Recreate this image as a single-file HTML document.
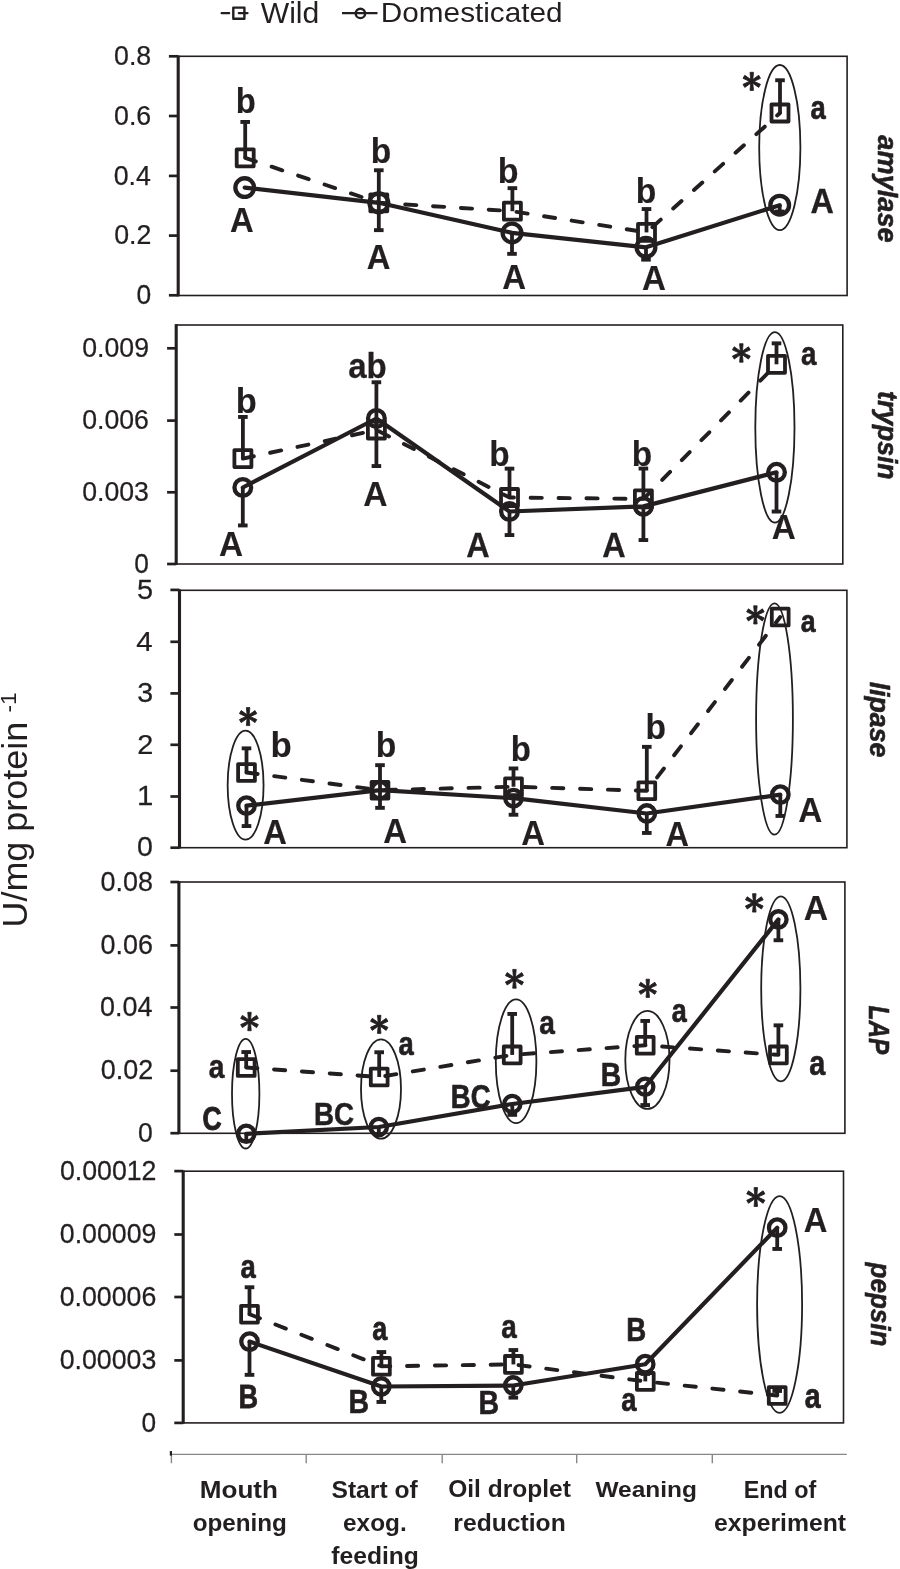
<!DOCTYPE html>
<html><head><meta charset="utf-8"><style>
html,body{margin:0;padding:0;background:#fff;}
svg{display:block;will-change:transform;}
text{font-family:"Liberation Sans",sans-serif;}
</style></head><body>
<svg width="900" height="1569" viewBox="0 0 900 1569">
<rect width="900" height="1569" fill="#fff"/>
<rect x="178.20" y="56.30" width="668.90" height="239.20" fill="none" stroke="#231f20" stroke-width="1.6"/>
<line x1="178.20" y1="55.50" x2="178.20" y2="296.30" stroke="#231f20" stroke-width="3.10" stroke-linecap="butt"/>
<line x1="168.90" y1="56.30" x2="178.20" y2="56.30" stroke="#231f20" stroke-width="2.70" stroke-linecap="butt"/>
<line x1="168.90" y1="116.00" x2="178.20" y2="116.00" stroke="#231f20" stroke-width="2.70" stroke-linecap="butt"/>
<line x1="168.90" y1="175.90" x2="178.20" y2="175.90" stroke="#231f20" stroke-width="2.70" stroke-linecap="butt"/>
<line x1="168.90" y1="235.60" x2="178.20" y2="235.60" stroke="#231f20" stroke-width="2.70" stroke-linecap="butt"/>
<line x1="168.90" y1="295.30" x2="178.20" y2="295.30" stroke="#231f20" stroke-width="2.70" stroke-linecap="butt"/>
<text transform="translate(114.08 64.91) scale(0.9882 1)" font-size="27.05" font-weight="normal" font-style="normal" fill="#231f20" stroke="#231f20" stroke-width="0.25" stroke-linejoin="round">0.8</text>
<text transform="translate(114.09 124.61) scale(0.9882 1)" font-size="27.05" font-weight="normal" font-style="normal" fill="#231f20" stroke="#231f20" stroke-width="0.25" stroke-linejoin="round">0.6</text>
<text transform="translate(113.70 184.51) scale(0.9883 1)" font-size="27.05" font-weight="normal" font-style="normal" fill="#231f20" stroke="#231f20" stroke-width="0.25" stroke-linejoin="round">0.4</text>
<text transform="translate(114.26 244.21) scale(0.9881 1)" font-size="27.05" font-weight="normal" font-style="normal" fill="#231f20" stroke="#231f20" stroke-width="0.25" stroke-linejoin="round">0.2</text>
<text transform="translate(136.43 303.91) scale(0.9759 1)" font-size="27.05" font-weight="normal" font-style="normal" fill="#231f20" stroke="#231f20" stroke-width="0.26" stroke-linejoin="round">0</text>
<polyline points="245.20,157.80 378.80,202.80 512.40,211.20 646.50,232.40 780.00,113.00" fill="none" stroke="#231f20" stroke-width="3.90" stroke-linecap="round" stroke-linejoin="round" stroke-dasharray="11.2 16.7"/>
<polyline points="244.70,187.60 378.80,202.80 512.00,232.90 646.00,247.30 779.70,205.20" fill="none" stroke="#231f20" stroke-width="4.20" stroke-linecap="round" stroke-linejoin="round"/>
<line x1="245.20" y1="157.80" x2="245.20" y2="121.95" stroke="#231f20" stroke-width="3.80" stroke-linecap="butt"/>
<line x1="240.40" y1="121.95" x2="250.00" y2="121.95" stroke="#231f20" stroke-width="3.90" stroke-linecap="butt"/>
<line x1="378.80" y1="202.80" x2="378.80" y2="170.25" stroke="#231f20" stroke-width="3.80" stroke-linecap="butt"/>
<line x1="374.00" y1="170.25" x2="383.60" y2="170.25" stroke="#231f20" stroke-width="3.90" stroke-linecap="butt"/>
<line x1="512.40" y1="211.20" x2="512.40" y2="188.15" stroke="#231f20" stroke-width="3.80" stroke-linecap="butt"/>
<line x1="507.60" y1="188.15" x2="517.20" y2="188.15" stroke="#231f20" stroke-width="3.90" stroke-linecap="butt"/>
<line x1="646.50" y1="232.40" x2="646.50" y2="209.05" stroke="#231f20" stroke-width="3.80" stroke-linecap="butt"/>
<line x1="641.70" y1="209.05" x2="651.30" y2="209.05" stroke="#231f20" stroke-width="3.90" stroke-linecap="butt"/>
<line x1="780.00" y1="113.00" x2="780.00" y2="80.25" stroke="#231f20" stroke-width="3.80" stroke-linecap="butt"/>
<line x1="775.20" y1="80.25" x2="784.80" y2="80.25" stroke="#231f20" stroke-width="3.90" stroke-linecap="butt"/>
<line x1="378.80" y1="202.80" x2="378.80" y2="230.15" stroke="#231f20" stroke-width="3.80" stroke-linecap="butt"/>
<line x1="374.00" y1="230.15" x2="383.60" y2="230.15" stroke="#231f20" stroke-width="3.90" stroke-linecap="butt"/>
<line x1="512.00" y1="232.90" x2="512.00" y2="253.85" stroke="#231f20" stroke-width="3.80" stroke-linecap="butt"/>
<line x1="507.20" y1="253.85" x2="516.80" y2="253.85" stroke="#231f20" stroke-width="3.90" stroke-linecap="butt"/>
<line x1="646.00" y1="247.30" x2="646.00" y2="259.65" stroke="#231f20" stroke-width="3.80" stroke-linecap="butt"/>
<line x1="641.20" y1="259.65" x2="650.80" y2="259.65" stroke="#231f20" stroke-width="3.90" stroke-linecap="butt"/>
<line x1="779.70" y1="205.20" x2="779.70" y2="211.55" stroke="#231f20" stroke-width="3.80" stroke-linecap="butt"/>
<line x1="774.90" y1="211.55" x2="784.50" y2="211.55" stroke="#231f20" stroke-width="3.90" stroke-linecap="butt"/>
<rect x="236.70" y="149.30" width="17.00" height="17.00" fill="none" stroke="#231f20" stroke-width="3.80" stroke-linejoin="round"/>
<rect x="370.30" y="194.30" width="17.00" height="17.00" fill="none" stroke="#231f20" stroke-width="3.80" stroke-linejoin="round"/>
<rect x="503.90" y="202.70" width="17.00" height="17.00" fill="none" stroke="#231f20" stroke-width="3.80" stroke-linejoin="round"/>
<rect x="638.00" y="223.90" width="17.00" height="17.00" fill="none" stroke="#231f20" stroke-width="3.80" stroke-linejoin="round"/>
<rect x="771.50" y="104.50" width="17.00" height="17.00" fill="none" stroke="#231f20" stroke-width="3.80" stroke-linejoin="round"/>
<circle cx="244.70" cy="187.60" r="9.35" fill="none" stroke="#231f20" stroke-width="4.30"/>
<circle cx="378.80" cy="202.80" r="9.35" fill="none" stroke="#231f20" stroke-width="4.30"/>
<circle cx="512.00" cy="232.90" r="9.35" fill="none" stroke="#231f20" stroke-width="4.30"/>
<circle cx="646.00" cy="247.30" r="9.35" fill="none" stroke="#231f20" stroke-width="4.30"/>
<circle cx="779.70" cy="205.20" r="9.35" fill="none" stroke="#231f20" stroke-width="4.30"/>
<ellipse cx="779.80" cy="147.60" rx="20.60" ry="82.60" fill="none" stroke="#231f20" stroke-width="1.80"/>
<text transform="translate(235.81 113.39) scale(0.9553 1)" font-size="34.39" font-weight="bold" font-style="normal" fill="#231f20" stroke="#231f20" stroke-width="0.15" stroke-linejoin="round">b</text>
<text transform="translate(230.07 232.12) scale(0.9520 1)" font-size="34.50" font-weight="bold" font-style="normal" fill="#231f20" stroke="#231f20" stroke-width="0.17" stroke-linejoin="round">A</text>
<text transform="translate(370.79 162.85) scale(0.9401 1)" font-size="35.68" font-weight="bold" font-style="normal" fill="#231f20" stroke="#231f20" stroke-width="0.21" stroke-linejoin="round">b</text>
<text transform="translate(366.68 268.50) scale(0.9440 1)" font-size="34.75" font-weight="bold" font-style="normal" fill="#231f20" stroke="#231f20" stroke-width="0.21" stroke-linejoin="round">A</text>
<text transform="translate(497.71 182.89) scale(0.9637 1)" font-size="35.38" font-weight="bold" font-style="normal" fill="#231f20" stroke="#231f20" stroke-width="0.12" stroke-linejoin="round">b</text>
<text transform="translate(502.28 288.50) scale(0.9443 1)" font-size="34.90" font-weight="bold" font-style="normal" fill="#231f20" stroke="#231f20" stroke-width="0.20" stroke-linejoin="round">A</text>
<text transform="translate(635.84 202.70) scale(0.9636 1)" font-size="34.97" font-weight="bold" font-style="normal" fill="#231f20" stroke="#231f20" stroke-width="0.12" stroke-linejoin="round">b</text>
<text transform="translate(641.94 289.83) scale(0.9607 1)" font-size="34.54" font-weight="bold" font-style="normal" fill="#231f20" stroke="#231f20" stroke-width="0.14" stroke-linejoin="round">A</text>
<path transform="translate(751.75 81.35) rotate(0)" d="M-0.90,0.00 L-1.75,-9.05 L1.75,-9.05 L0.90,0.00 L1.75,9.05 L-1.75,9.05 Z" fill="#231f20" stroke="#231f20" stroke-width="0.80" stroke-linejoin="round"/>
<path transform="translate(751.75 81.35) rotate(60)" d="M-0.90,0.00 L-1.75,-9.05 L1.75,-9.05 L0.90,0.00 L1.75,9.05 L-1.75,9.05 Z" fill="#231f20" stroke="#231f20" stroke-width="0.80" stroke-linejoin="round"/>
<path transform="translate(751.75 81.35) rotate(120)" d="M-0.90,0.00 L-1.75,-9.05 L1.75,-9.05 L0.90,0.00 L1.75,9.05 L-1.75,9.05 Z" fill="#231f20" stroke="#231f20" stroke-width="0.80" stroke-linejoin="round"/>
<text transform="translate(810.59 118.78) scale(0.8243 1)" font-size="33.23" font-weight="bold" font-style="normal" fill="#231f20" stroke="#231f20" stroke-width="0.72" stroke-linejoin="round">a</text>
<text transform="translate(810.45 213.45) scale(0.9120 1)" font-size="35.46" font-weight="bold" font-style="normal" fill="#231f20" stroke="#231f20" stroke-width="0.33" stroke-linejoin="round">A</text>
<text transform="translate(878.30 0) rotate(90) translate(135.37 0) scale(0.9662 1)" font-size="28.16" font-weight="bold" font-style="italic" fill="#231f20" stroke="#231f20" stroke-width="0.60" stroke-linejoin="round">amylase</text>
<rect x="176.20" y="325.00" width="666.60" height="239.00" fill="none" stroke="#231f20" stroke-width="1.6"/>
<line x1="176.20" y1="324.20" x2="176.20" y2="564.80" stroke="#231f20" stroke-width="3.10" stroke-linecap="butt"/>
<line x1="167.10" y1="348.30" x2="176.20" y2="348.30" stroke="#231f20" stroke-width="2.70" stroke-linecap="butt"/>
<line x1="167.10" y1="420.60" x2="176.20" y2="420.60" stroke="#231f20" stroke-width="2.70" stroke-linecap="butt"/>
<line x1="167.10" y1="492.30" x2="176.20" y2="492.30" stroke="#231f20" stroke-width="2.70" stroke-linecap="butt"/>
<line x1="167.10" y1="564.00" x2="176.20" y2="564.00" stroke="#231f20" stroke-width="2.70" stroke-linecap="butt"/>
<text transform="translate(82.28 356.91) scale(0.9863 1)" font-size="27.05" font-weight="normal" font-style="normal" fill="#231f20" stroke="#231f20" stroke-width="0.25" stroke-linejoin="round">0.009</text>
<text transform="translate(82.19 429.21) scale(0.9863 1)" font-size="27.05" font-weight="normal" font-style="normal" fill="#231f20" stroke="#231f20" stroke-width="0.25" stroke-linejoin="round">0.006</text>
<text transform="translate(82.19 500.91) scale(0.9863 1)" font-size="27.05" font-weight="normal" font-style="normal" fill="#231f20" stroke="#231f20" stroke-width="0.25" stroke-linejoin="round">0.003</text>
<text transform="translate(134.20 572.61) scale(0.9708 1)" font-size="27.05" font-weight="normal" font-style="normal" fill="#231f20" stroke="#231f20" stroke-width="0.26" stroke-linejoin="round">0</text>
<polyline points="242.90,458.60 376.40,430.00 509.50,497.50 643.40,498.90 776.50,364.30" fill="none" stroke="#231f20" stroke-width="3.90" stroke-linecap="round" stroke-linejoin="round" stroke-dasharray="11.2 16.7"/>
<polyline points="242.80,487.50 376.40,418.50 509.50,511.50 643.40,506.40 776.50,472.30" fill="none" stroke="#231f20" stroke-width="4.20" stroke-linecap="round" stroke-linejoin="round"/>
<line x1="242.90" y1="458.60" x2="242.90" y2="416.95" stroke="#231f20" stroke-width="3.80" stroke-linecap="butt"/>
<line x1="238.10" y1="416.95" x2="247.70" y2="416.95" stroke="#231f20" stroke-width="3.90" stroke-linecap="butt"/>
<line x1="376.40" y1="430.00" x2="376.40" y2="382.25" stroke="#231f20" stroke-width="3.80" stroke-linecap="butt"/>
<line x1="371.60" y1="382.25" x2="381.20" y2="382.25" stroke="#231f20" stroke-width="3.90" stroke-linecap="butt"/>
<line x1="509.50" y1="497.50" x2="509.50" y2="468.65" stroke="#231f20" stroke-width="3.80" stroke-linecap="butt"/>
<line x1="504.70" y1="468.65" x2="514.30" y2="468.65" stroke="#231f20" stroke-width="3.90" stroke-linecap="butt"/>
<line x1="643.40" y1="498.90" x2="643.40" y2="468.55" stroke="#231f20" stroke-width="3.80" stroke-linecap="butt"/>
<line x1="638.60" y1="468.55" x2="648.20" y2="468.55" stroke="#231f20" stroke-width="3.90" stroke-linecap="butt"/>
<line x1="776.50" y1="364.30" x2="776.50" y2="343.35" stroke="#231f20" stroke-width="3.80" stroke-linecap="butt"/>
<line x1="771.70" y1="343.35" x2="781.30" y2="343.35" stroke="#231f20" stroke-width="3.90" stroke-linecap="butt"/>
<line x1="242.80" y1="487.50" x2="242.80" y2="525.45" stroke="#231f20" stroke-width="3.80" stroke-linecap="butt"/>
<line x1="238.00" y1="525.45" x2="247.60" y2="525.45" stroke="#231f20" stroke-width="3.90" stroke-linecap="butt"/>
<line x1="376.40" y1="418.50" x2="376.40" y2="466.05" stroke="#231f20" stroke-width="3.80" stroke-linecap="butt"/>
<line x1="371.60" y1="466.05" x2="381.20" y2="466.05" stroke="#231f20" stroke-width="3.90" stroke-linecap="butt"/>
<line x1="509.50" y1="511.50" x2="509.50" y2="535.05" stroke="#231f20" stroke-width="3.80" stroke-linecap="butt"/>
<line x1="504.70" y1="535.05" x2="514.30" y2="535.05" stroke="#231f20" stroke-width="3.90" stroke-linecap="butt"/>
<line x1="643.40" y1="506.40" x2="643.40" y2="540.05" stroke="#231f20" stroke-width="3.80" stroke-linecap="butt"/>
<line x1="638.60" y1="540.05" x2="648.20" y2="540.05" stroke="#231f20" stroke-width="3.90" stroke-linecap="butt"/>
<line x1="776.50" y1="472.30" x2="776.50" y2="511.55" stroke="#231f20" stroke-width="3.80" stroke-linecap="butt"/>
<line x1="771.70" y1="511.55" x2="781.30" y2="511.55" stroke="#231f20" stroke-width="3.90" stroke-linecap="butt"/>
<rect x="234.40" y="450.10" width="17.00" height="17.00" fill="none" stroke="#231f20" stroke-width="3.80" stroke-linejoin="round"/>
<rect x="367.90" y="421.50" width="17.00" height="17.00" fill="none" stroke="#231f20" stroke-width="3.80" stroke-linejoin="round"/>
<rect x="501.00" y="489.00" width="17.00" height="17.00" fill="none" stroke="#231f20" stroke-width="3.80" stroke-linejoin="round"/>
<rect x="634.90" y="490.40" width="17.00" height="17.00" fill="none" stroke="#231f20" stroke-width="3.80" stroke-linejoin="round"/>
<rect x="768.00" y="355.80" width="17.00" height="17.00" fill="none" stroke="#231f20" stroke-width="3.80" stroke-linejoin="round"/>
<circle cx="242.80" cy="487.50" r="8.35" fill="none" stroke="#231f20" stroke-width="4.30"/>
<circle cx="376.40" cy="418.50" r="8.35" fill="none" stroke="#231f20" stroke-width="4.30"/>
<circle cx="509.50" cy="511.50" r="8.35" fill="none" stroke="#231f20" stroke-width="4.30"/>
<circle cx="643.40" cy="506.40" r="8.35" fill="none" stroke="#231f20" stroke-width="4.30"/>
<circle cx="776.50" cy="472.30" r="8.35" fill="none" stroke="#231f20" stroke-width="4.30"/>
<ellipse cx="774.90" cy="427.40" rx="19.60" ry="95.30" fill="none" stroke="#231f20" stroke-width="1.80"/>
<text transform="translate(235.67 412.91) scale(0.9717 1)" font-size="35.55" font-weight="bold" font-style="normal" fill="#231f20" stroke="#231f20" stroke-width="0.10" stroke-linejoin="round">b</text>
<text transform="translate(219.04 555.93) scale(0.9610 1)" font-size="34.69" font-weight="bold" font-style="normal" fill="#231f20" stroke="#231f20" stroke-width="0.14" stroke-linejoin="round">A</text>
<text transform="translate(348.17 378.42) scale(0.9249 1)" font-size="35.71" font-weight="bold" font-style="normal" fill="#231f20" stroke="#231f20" stroke-width="0.29" stroke-linejoin="round">ab</text>
<text transform="translate(363.14 506.03) scale(0.9575 1)" font-size="35.11" font-weight="bold" font-style="normal" fill="#231f20" stroke="#231f20" stroke-width="0.15" stroke-linejoin="round">A</text>
<text transform="translate(489.18 466.27) scale(0.9497 1)" font-size="35.18" font-weight="bold" font-style="normal" fill="#231f20" stroke="#231f20" stroke-width="0.17" stroke-linejoin="round">b</text>
<text transform="translate(466.21 557.08) scale(0.9313 1)" font-size="34.83" font-weight="bold" font-style="normal" fill="#231f20" stroke="#231f20" stroke-width="0.25" stroke-linejoin="round">A</text>
<text transform="translate(631.87 466.18) scale(0.9536 1)" font-size="35.06" font-weight="bold" font-style="normal" fill="#231f20" stroke="#231f20" stroke-width="0.16" stroke-linejoin="round">b</text>
<text transform="translate(602.21 557.08) scale(0.9313 1)" font-size="34.83" font-weight="bold" font-style="normal" fill="#231f20" stroke="#231f20" stroke-width="0.25" stroke-linejoin="round">A</text>
<path transform="translate(741.35 352.95) rotate(0)" d="M-0.90,0.00 L-1.75,-9.25 L1.75,-9.25 L0.90,0.00 L1.75,9.25 L-1.75,9.25 Z" fill="#231f20" stroke="#231f20" stroke-width="0.80" stroke-linejoin="round"/>
<path transform="translate(741.35 352.95) rotate(60)" d="M-0.90,0.00 L-1.75,-9.25 L1.75,-9.25 L0.90,0.00 L1.75,9.25 L-1.75,9.25 Z" fill="#231f20" stroke="#231f20" stroke-width="0.80" stroke-linejoin="round"/>
<path transform="translate(741.35 352.95) rotate(120)" d="M-0.90,0.00 L-1.75,-9.25 L1.75,-9.25 L0.90,0.00 L1.75,9.25 L-1.75,9.25 Z" fill="#231f20" stroke="#231f20" stroke-width="0.80" stroke-linejoin="round"/>
<text transform="translate(801.12 364.65) scale(0.8593 1)" font-size="32.35" font-weight="bold" font-style="normal" fill="#231f20" stroke="#231f20" stroke-width="0.55" stroke-linejoin="round">a</text>
<text transform="translate(771.74 538.53) scale(0.9570 1)" font-size="34.81" font-weight="bold" font-style="normal" fill="#231f20" stroke="#231f20" stroke-width="0.16" stroke-linejoin="round">A</text>
<text transform="translate(878.20 0) rotate(90) translate(391.08 0) scale(0.9913 1)" font-size="26.79" font-weight="bold" font-style="italic" fill="#231f20" stroke="#231f20" stroke-width="0.60" stroke-linejoin="round">trypsin</text>
<rect x="179.50" y="590.30" width="667.40" height="257.40" fill="none" stroke="#231f20" stroke-width="1.6"/>
<line x1="179.50" y1="589.50" x2="179.50" y2="848.50" stroke="#231f20" stroke-width="3.10" stroke-linecap="butt"/>
<line x1="170.40" y1="589.90" x2="179.50" y2="589.90" stroke="#231f20" stroke-width="2.70" stroke-linecap="butt"/>
<line x1="170.40" y1="641.80" x2="179.50" y2="641.80" stroke="#231f20" stroke-width="2.70" stroke-linecap="butt"/>
<line x1="170.40" y1="693.40" x2="179.50" y2="693.40" stroke="#231f20" stroke-width="2.70" stroke-linecap="butt"/>
<line x1="170.40" y1="744.80" x2="179.50" y2="744.80" stroke="#231f20" stroke-width="2.70" stroke-linecap="butt"/>
<line x1="170.40" y1="796.50" x2="179.50" y2="796.50" stroke="#231f20" stroke-width="2.70" stroke-linecap="butt"/>
<line x1="170.40" y1="847.70" x2="179.50" y2="847.70" stroke="#231f20" stroke-width="2.70" stroke-linecap="butt"/>
<text transform="translate(136.98 598.51) scale(1.0558 1)" font-size="27.45" font-weight="normal" font-style="normal" fill="#231f20" stroke="#231f20" stroke-width="0.25" stroke-linejoin="round">5</text>
<text transform="translate(136.37 650.67) scale(1.0572 1)" font-size="27.83" font-weight="normal" font-style="normal" fill="#231f20" stroke="#231f20" stroke-width="0.25" stroke-linejoin="round">4</text>
<text transform="translate(137.25 702.01) scale(1.0556 1)" font-size="27.05" font-weight="normal" font-style="normal" fill="#231f20" stroke="#231f20" stroke-width="0.25" stroke-linejoin="round">3</text>
<text transform="translate(137.24 753.67) scale(1.0550 1)" font-size="27.43" font-weight="normal" font-style="normal" fill="#231f20" stroke="#231f20" stroke-width="0.25" stroke-linejoin="round">2</text>
<text transform="translate(136.99 805.38) scale(1.0542 1)" font-size="27.83" font-weight="normal" font-style="normal" fill="#231f20" stroke="#231f20" stroke-width="0.25" stroke-linejoin="round">1</text>
<text transform="translate(137.11 856.31) scale(1.0557 1)" font-size="27.05" font-weight="normal" font-style="normal" fill="#231f20" stroke="#231f20" stroke-width="0.25" stroke-linejoin="round">0</text>
<polyline points="246.50,772.50 380.00,790.20 513.50,786.70 646.80,790.80 780.20,617.00" fill="none" stroke="#231f20" stroke-width="3.90" stroke-linecap="round" stroke-linejoin="round" stroke-dasharray="11.2 16.7"/>
<polyline points="246.50,805.70 380.00,790.20 513.50,798.20 646.80,813.50 780.30,794.70" fill="none" stroke="#231f20" stroke-width="4.20" stroke-linecap="round" stroke-linejoin="round"/>
<line x1="246.50" y1="772.50" x2="246.50" y2="748.35" stroke="#231f20" stroke-width="3.80" stroke-linecap="butt"/>
<line x1="241.70" y1="748.35" x2="251.30" y2="748.35" stroke="#231f20" stroke-width="3.90" stroke-linecap="butt"/>
<line x1="380.00" y1="790.20" x2="380.00" y2="765.15" stroke="#231f20" stroke-width="3.80" stroke-linecap="butt"/>
<line x1="375.20" y1="765.15" x2="384.80" y2="765.15" stroke="#231f20" stroke-width="3.90" stroke-linecap="butt"/>
<line x1="513.50" y1="786.70" x2="513.50" y2="768.45" stroke="#231f20" stroke-width="3.80" stroke-linecap="butt"/>
<line x1="508.70" y1="768.45" x2="518.30" y2="768.45" stroke="#231f20" stroke-width="3.90" stroke-linecap="butt"/>
<line x1="646.80" y1="790.80" x2="646.80" y2="746.85" stroke="#231f20" stroke-width="3.80" stroke-linecap="butt"/>
<line x1="642.00" y1="746.85" x2="651.60" y2="746.85" stroke="#231f20" stroke-width="3.90" stroke-linecap="butt"/>
<line x1="246.50" y1="805.70" x2="246.50" y2="826.05" stroke="#231f20" stroke-width="3.80" stroke-linecap="butt"/>
<line x1="241.70" y1="826.05" x2="251.30" y2="826.05" stroke="#231f20" stroke-width="3.90" stroke-linecap="butt"/>
<line x1="380.00" y1="790.20" x2="380.00" y2="807.85" stroke="#231f20" stroke-width="3.80" stroke-linecap="butt"/>
<line x1="375.20" y1="807.85" x2="384.80" y2="807.85" stroke="#231f20" stroke-width="3.90" stroke-linecap="butt"/>
<line x1="513.50" y1="798.20" x2="513.50" y2="814.75" stroke="#231f20" stroke-width="3.80" stroke-linecap="butt"/>
<line x1="508.70" y1="814.75" x2="518.30" y2="814.75" stroke="#231f20" stroke-width="3.90" stroke-linecap="butt"/>
<line x1="646.80" y1="813.50" x2="646.80" y2="832.95" stroke="#231f20" stroke-width="3.80" stroke-linecap="butt"/>
<line x1="642.00" y1="832.95" x2="651.60" y2="832.95" stroke="#231f20" stroke-width="3.90" stroke-linecap="butt"/>
<line x1="780.30" y1="794.70" x2="780.30" y2="815.95" stroke="#231f20" stroke-width="3.80" stroke-linecap="butt"/>
<line x1="775.50" y1="815.95" x2="785.10" y2="815.95" stroke="#231f20" stroke-width="3.90" stroke-linecap="butt"/>
<rect x="238.10" y="764.10" width="16.80" height="16.80" fill="none" stroke="#231f20" stroke-width="3.80" stroke-linejoin="round"/>
<rect x="371.60" y="781.80" width="16.80" height="16.80" fill="none" stroke="#231f20" stroke-width="3.80" stroke-linejoin="round"/>
<rect x="505.10" y="778.30" width="16.80" height="16.80" fill="none" stroke="#231f20" stroke-width="3.80" stroke-linejoin="round"/>
<rect x="638.40" y="782.40" width="16.80" height="16.80" fill="none" stroke="#231f20" stroke-width="3.80" stroke-linejoin="round"/>
<rect x="771.80" y="608.60" width="16.80" height="16.80" fill="none" stroke="#231f20" stroke-width="3.80" stroke-linejoin="round"/>
<circle cx="246.50" cy="805.70" r="8.25" fill="none" stroke="#231f20" stroke-width="4.30"/>
<circle cx="380.00" cy="790.20" r="8.25" fill="none" stroke="#231f20" stroke-width="4.30"/>
<circle cx="513.50" cy="798.20" r="8.25" fill="none" stroke="#231f20" stroke-width="4.30"/>
<circle cx="646.80" cy="813.50" r="8.25" fill="none" stroke="#231f20" stroke-width="4.30"/>
<circle cx="780.30" cy="794.70" r="8.25" fill="none" stroke="#231f20" stroke-width="4.30"/>
<ellipse cx="245.60" cy="785.20" rx="17.95" ry="54.50" fill="none" stroke="#231f20" stroke-width="1.80"/>
<ellipse cx="774.50" cy="719.00" rx="18.40" ry="115.70" fill="none" stroke="#231f20" stroke-width="1.80"/>
<path transform="translate(248.10 716.60) rotate(0)" d="M-0.90,0.00 L-1.75,-9.00 L1.75,-9.00 L0.90,0.00 L1.75,9.00 L-1.75,9.00 Z" fill="#231f20" stroke="#231f20" stroke-width="0.80" stroke-linejoin="round"/>
<path transform="translate(248.10 716.60) rotate(60)" d="M-0.90,0.00 L-1.75,-9.00 L1.75,-9.00 L0.90,0.00 L1.75,9.00 L-1.75,9.00 Z" fill="#231f20" stroke="#231f20" stroke-width="0.80" stroke-linejoin="round"/>
<path transform="translate(248.10 716.60) rotate(120)" d="M-0.90,0.00 L-1.75,-9.00 L1.75,-9.00 L0.90,0.00 L1.75,9.00 L-1.75,9.00 Z" fill="#231f20" stroke="#231f20" stroke-width="0.80" stroke-linejoin="round"/>
<text transform="translate(270.54 756.81) scale(0.9756 1)" font-size="35.84" font-weight="bold" font-style="normal" fill="#231f20" stroke="#231f20" stroke-width="0.08" stroke-linejoin="round">b</text>
<text transform="translate(263.30 843.78) scale(0.9321 1)" font-size="35.12" font-weight="bold" font-style="normal" fill="#231f20" stroke="#231f20" stroke-width="0.25" stroke-linejoin="round">A</text>
<text transform="translate(375.74 757.20) scale(0.9636 1)" font-size="34.97" font-weight="bold" font-style="normal" fill="#231f20" stroke="#231f20" stroke-width="0.12" stroke-linejoin="round">b</text>
<text transform="translate(383.18 842.70) scale(0.9403 1)" font-size="35.02" font-weight="bold" font-style="normal" fill="#231f20" stroke="#231f20" stroke-width="0.22" stroke-linejoin="round">A</text>
<text transform="translate(510.82 760.66) scale(0.9415 1)" font-size="35.01" font-weight="bold" font-style="normal" fill="#231f20" stroke="#231f20" stroke-width="0.20" stroke-linejoin="round">b</text>
<text transform="translate(521.15 844.63) scale(0.9602 1)" font-size="34.25" font-weight="bold" font-style="normal" fill="#231f20" stroke="#231f20" stroke-width="0.14" stroke-linejoin="round">A</text>
<text transform="translate(645.57 739.27) scale(0.9479 1)" font-size="35.44" font-weight="bold" font-style="normal" fill="#231f20" stroke="#231f20" stroke-width="0.18" stroke-linejoin="round">b</text>
<text transform="translate(665.48 845.91) scale(0.9473 1)" font-size="34.33" font-weight="bold" font-style="normal" fill="#231f20" stroke="#231f20" stroke-width="0.19" stroke-linejoin="round">A</text>
<path transform="translate(755.40 614.90) rotate(0)" d="M-0.90,0.00 L-1.75,-9.10 L1.75,-9.10 L0.90,0.00 L1.75,9.10 L-1.75,9.10 Z" fill="#231f20" stroke="#231f20" stroke-width="0.80" stroke-linejoin="round"/>
<path transform="translate(755.40 614.90) rotate(60)" d="M-0.90,0.00 L-1.75,-9.10 L1.75,-9.10 L0.90,0.00 L1.75,9.10 L-1.75,9.10 Z" fill="#231f20" stroke="#231f20" stroke-width="0.80" stroke-linejoin="round"/>
<path transform="translate(755.40 614.90) rotate(120)" d="M-0.90,0.00 L-1.75,-9.10 L1.75,-9.10 L0.90,0.00 L1.75,9.10 L-1.75,9.10 Z" fill="#231f20" stroke="#231f20" stroke-width="0.80" stroke-linejoin="round"/>
<text transform="translate(800.70 631.61) scale(0.8342 1)" font-size="32.02" font-weight="bold" font-style="normal" fill="#231f20" stroke="#231f20" stroke-width="0.67" stroke-linejoin="round">a</text>
<text transform="translate(798.23 822.24) scale(0.9651 1)" font-size="34.56" font-weight="bold" font-style="normal" fill="#231f20" stroke="#231f20" stroke-width="0.13" stroke-linejoin="round">A</text>
<text transform="translate(870.30 0) rotate(90) translate(681.64 0) scale(0.9991 1)" font-size="26.76" font-weight="bold" font-style="italic" fill="#231f20" stroke="#231f20" stroke-width="0.60" stroke-linejoin="round">lipase</text>
<rect x="178.90" y="882.00" width="666.00" height="251.30" fill="none" stroke="#231f20" stroke-width="1.6"/>
<line x1="178.90" y1="881.20" x2="178.90" y2="1134.10" stroke="#231f20" stroke-width="3.10" stroke-linecap="butt"/>
<line x1="170.40" y1="882.00" x2="178.90" y2="882.00" stroke="#231f20" stroke-width="2.70" stroke-linecap="butt"/>
<line x1="170.40" y1="945.40" x2="178.90" y2="945.40" stroke="#231f20" stroke-width="2.70" stroke-linecap="butt"/>
<line x1="170.40" y1="1007.50" x2="178.90" y2="1007.50" stroke="#231f20" stroke-width="2.70" stroke-linecap="butt"/>
<line x1="170.40" y1="1070.70" x2="178.90" y2="1070.70" stroke="#231f20" stroke-width="2.70" stroke-linecap="butt"/>
<line x1="170.40" y1="1133.20" x2="178.90" y2="1133.20" stroke="#231f20" stroke-width="2.70" stroke-linecap="butt"/>
<text transform="translate(100.47 890.61) scale(0.9968 1)" font-size="27.05" font-weight="normal" font-style="normal" fill="#231f20" stroke="#231f20" stroke-width="0.25" stroke-linejoin="round">0.08</text>
<text transform="translate(100.49 954.01) scale(0.9968 1)" font-size="27.05" font-weight="normal" font-style="normal" fill="#231f20" stroke="#231f20" stroke-width="0.25" stroke-linejoin="round">0.06</text>
<text transform="translate(100.09 1016.11) scale(0.9968 1)" font-size="27.05" font-weight="normal" font-style="normal" fill="#231f20" stroke="#231f20" stroke-width="0.25" stroke-linejoin="round">0.04</text>
<text transform="translate(100.66 1079.31) scale(0.9968 1)" font-size="27.05" font-weight="normal" font-style="normal" fill="#231f20" stroke="#231f20" stroke-width="0.25" stroke-linejoin="round">0.02</text>
<text transform="translate(138.03 1141.81) scale(0.9824 1)" font-size="27.05" font-weight="normal" font-style="normal" fill="#231f20" stroke="#231f20" stroke-width="0.25" stroke-linejoin="round">0</text>
<polyline points="246.20,1067.50 379.20,1077.00 512.20,1054.90 645.20,1045.30 778.40,1054.90" fill="none" stroke="#231f20" stroke-width="3.90" stroke-linecap="round" stroke-linejoin="round" stroke-dasharray="11.2 16.7"/>
<polyline points="246.30,1133.80 378.80,1127.00 512.30,1104.00 645.20,1086.80 778.40,919.40" fill="none" stroke="#231f20" stroke-width="4.20" stroke-linecap="round" stroke-linejoin="round"/>
<line x1="246.20" y1="1067.50" x2="246.20" y2="1052.05" stroke="#231f20" stroke-width="3.80" stroke-linecap="butt"/>
<line x1="241.40" y1="1052.05" x2="251.00" y2="1052.05" stroke="#231f20" stroke-width="3.90" stroke-linecap="butt"/>
<line x1="379.20" y1="1077.00" x2="379.20" y2="1052.25" stroke="#231f20" stroke-width="3.80" stroke-linecap="butt"/>
<line x1="374.40" y1="1052.25" x2="384.00" y2="1052.25" stroke="#231f20" stroke-width="3.90" stroke-linecap="butt"/>
<line x1="512.20" y1="1054.90" x2="512.20" y2="1013.95" stroke="#231f20" stroke-width="3.80" stroke-linecap="butt"/>
<line x1="507.40" y1="1013.95" x2="517.00" y2="1013.95" stroke="#231f20" stroke-width="3.90" stroke-linecap="butt"/>
<line x1="645.20" y1="1045.30" x2="645.20" y2="1020.95" stroke="#231f20" stroke-width="3.80" stroke-linecap="butt"/>
<line x1="640.40" y1="1020.95" x2="650.00" y2="1020.95" stroke="#231f20" stroke-width="3.90" stroke-linecap="butt"/>
<line x1="778.40" y1="1054.90" x2="778.40" y2="1025.35" stroke="#231f20" stroke-width="3.80" stroke-linecap="butt"/>
<line x1="773.60" y1="1025.35" x2="783.20" y2="1025.35" stroke="#231f20" stroke-width="3.90" stroke-linecap="butt"/>
<line x1="246.30" y1="1133.80" x2="246.30" y2="1141.05" stroke="#231f20" stroke-width="3.80" stroke-linecap="butt"/>
<line x1="241.50" y1="1141.05" x2="251.10" y2="1141.05" stroke="#231f20" stroke-width="3.90" stroke-linecap="butt"/>
<line x1="378.80" y1="1127.00" x2="378.80" y2="1134.05" stroke="#231f20" stroke-width="3.80" stroke-linecap="butt"/>
<line x1="374.00" y1="1134.05" x2="383.60" y2="1134.05" stroke="#231f20" stroke-width="3.90" stroke-linecap="butt"/>
<line x1="512.30" y1="1104.00" x2="512.30" y2="1114.85" stroke="#231f20" stroke-width="3.80" stroke-linecap="butt"/>
<line x1="507.50" y1="1114.85" x2="517.10" y2="1114.85" stroke="#231f20" stroke-width="3.90" stroke-linecap="butt"/>
<line x1="645.20" y1="1086.80" x2="645.20" y2="1105.05" stroke="#231f20" stroke-width="3.80" stroke-linecap="butt"/>
<line x1="640.40" y1="1105.05" x2="650.00" y2="1105.05" stroke="#231f20" stroke-width="3.90" stroke-linecap="butt"/>
<line x1="778.40" y1="919.40" x2="778.40" y2="940.25" stroke="#231f20" stroke-width="3.80" stroke-linecap="butt"/>
<line x1="773.60" y1="940.25" x2="783.20" y2="940.25" stroke="#231f20" stroke-width="3.90" stroke-linecap="butt"/>
<rect x="237.80" y="1059.10" width="16.80" height="16.80" fill="none" stroke="#231f20" stroke-width="3.80" stroke-linejoin="round"/>
<rect x="370.80" y="1068.60" width="16.80" height="16.80" fill="none" stroke="#231f20" stroke-width="3.80" stroke-linejoin="round"/>
<rect x="503.80" y="1046.50" width="16.80" height="16.80" fill="none" stroke="#231f20" stroke-width="3.80" stroke-linejoin="round"/>
<rect x="636.80" y="1036.90" width="16.80" height="16.80" fill="none" stroke="#231f20" stroke-width="3.80" stroke-linejoin="round"/>
<rect x="770.00" y="1046.50" width="16.80" height="16.80" fill="none" stroke="#231f20" stroke-width="3.80" stroke-linejoin="round"/>
<circle cx="246.30" cy="1133.80" r="8.15" fill="none" stroke="#231f20" stroke-width="4.30"/>
<circle cx="378.80" cy="1127.00" r="8.15" fill="none" stroke="#231f20" stroke-width="4.30"/>
<circle cx="512.30" cy="1104.00" r="8.15" fill="none" stroke="#231f20" stroke-width="4.30"/>
<circle cx="645.20" cy="1086.80" r="8.15" fill="none" stroke="#231f20" stroke-width="4.30"/>
<circle cx="778.40" cy="919.40" r="8.15" fill="none" stroke="#231f20" stroke-width="4.30"/>
<ellipse cx="245.70" cy="1093.70" rx="13.70" ry="54.80" fill="none" stroke="#231f20" stroke-width="1.80"/>
<ellipse cx="381.00" cy="1089.00" rx="20.00" ry="49.70" fill="none" stroke="#231f20" stroke-width="1.80"/>
<ellipse cx="516.10" cy="1061.20" rx="20.30" ry="61.90" fill="none" stroke="#231f20" stroke-width="1.80"/>
<ellipse cx="647.40" cy="1059.90" rx="22.10" ry="49.00" fill="none" stroke="#231f20" stroke-width="1.80"/>
<ellipse cx="780.80" cy="988.80" rx="19.60" ry="92.50" fill="none" stroke="#231f20" stroke-width="1.80"/>
<path transform="translate(249.50 1021.50) rotate(0)" d="M-0.90,0.00 L-1.75,-9.20 L1.75,-9.20 L0.90,0.00 L1.75,9.20 L-1.75,9.20 Z" fill="#231f20" stroke="#231f20" stroke-width="0.80" stroke-linejoin="round"/>
<path transform="translate(249.50 1021.50) rotate(60)" d="M-0.90,0.00 L-1.75,-9.20 L1.75,-9.20 L0.90,0.00 L1.75,9.20 L-1.75,9.20 Z" fill="#231f20" stroke="#231f20" stroke-width="0.80" stroke-linejoin="round"/>
<path transform="translate(249.50 1021.50) rotate(120)" d="M-0.90,0.00 L-1.75,-9.20 L1.75,-9.20 L0.90,0.00 L1.75,9.20 L-1.75,9.20 Z" fill="#231f20" stroke="#231f20" stroke-width="0.80" stroke-linejoin="round"/>
<text transform="translate(208.81 1078.45) scale(0.8613 1)" font-size="32.73" font-weight="bold" font-style="normal" fill="#231f20" stroke="#231f20" stroke-width="0.55" stroke-linejoin="round">a</text>
<text transform="translate(202.58 1129.79) scale(0.7780 1)" font-size="34.12" font-weight="bold" font-style="normal" fill="#231f20" stroke="#231f20" stroke-width="0.96" stroke-linejoin="round">C</text>
<path transform="translate(379.20 1024.35) rotate(0)" d="M-0.90,0.00 L-1.75,-9.05 L1.75,-9.05 L0.90,0.00 L1.75,9.05 L-1.75,9.05 Z" fill="#231f20" stroke="#231f20" stroke-width="0.80" stroke-linejoin="round"/>
<path transform="translate(379.20 1024.35) rotate(60)" d="M-0.90,0.00 L-1.75,-9.05 L1.75,-9.05 L0.90,0.00 L1.75,9.05 L-1.75,9.05 Z" fill="#231f20" stroke="#231f20" stroke-width="0.80" stroke-linejoin="round"/>
<path transform="translate(379.20 1024.35) rotate(120)" d="M-0.90,0.00 L-1.75,-9.05 L1.75,-9.05 L0.90,0.00 L1.75,9.05 L-1.75,9.05 Z" fill="#231f20" stroke="#231f20" stroke-width="0.80" stroke-linejoin="round"/>
<text transform="translate(398.60 1055.27) scale(0.8196 1)" font-size="33.39" font-weight="bold" font-style="normal" fill="#231f20" stroke="#231f20" stroke-width="0.74" stroke-linejoin="round">a</text>
<text transform="translate(313.88 1125.35) scale(0.8713 1)" font-size="31.81" font-weight="bold" font-style="normal" fill="#231f20" stroke="#231f20" stroke-width="0.55" stroke-linejoin="round">BC</text>
<path transform="translate(514.45 978.80) rotate(0)" d="M-0.90,0.00 L-1.75,-9.40 L1.75,-9.40 L0.90,0.00 L1.75,9.40 L-1.75,9.40 Z" fill="#231f20" stroke="#231f20" stroke-width="0.80" stroke-linejoin="round"/>
<path transform="translate(514.45 978.80) rotate(60)" d="M-0.90,0.00 L-1.75,-9.40 L1.75,-9.40 L0.90,0.00 L1.75,9.40 L-1.75,9.40 Z" fill="#231f20" stroke="#231f20" stroke-width="0.80" stroke-linejoin="round"/>
<path transform="translate(514.45 978.80) rotate(120)" d="M-0.90,0.00 L-1.75,-9.40 L1.75,-9.40 L0.90,0.00 L1.75,9.40 L-1.75,9.40 Z" fill="#231f20" stroke="#231f20" stroke-width="0.80" stroke-linejoin="round"/>
<text transform="translate(539.25 1034.30) scale(0.8371 1)" font-size="33.49" font-weight="bold" font-style="normal" fill="#231f20" stroke="#231f20" stroke-width="0.66" stroke-linejoin="round">a</text>
<text transform="translate(450.86 1107.78) scale(0.8351 1)" font-size="32.90" font-weight="bold" font-style="normal" fill="#231f20" stroke="#231f20" stroke-width="0.72" stroke-linejoin="round">BC</text>
<path transform="translate(647.75 988.30) rotate(0)" d="M-0.90,0.00 L-1.75,-9.10 L1.75,-9.10 L0.90,0.00 L1.75,9.10 L-1.75,9.10 Z" fill="#231f20" stroke="#231f20" stroke-width="0.80" stroke-linejoin="round"/>
<path transform="translate(647.75 988.30) rotate(60)" d="M-0.90,0.00 L-1.75,-9.10 L1.75,-9.10 L0.90,0.00 L1.75,9.10 L-1.75,9.10 Z" fill="#231f20" stroke="#231f20" stroke-width="0.80" stroke-linejoin="round"/>
<path transform="translate(647.75 988.30) rotate(120)" d="M-0.90,0.00 L-1.75,-9.10 L1.75,-9.10 L0.90,0.00 L1.75,9.10 L-1.75,9.10 Z" fill="#231f20" stroke="#231f20" stroke-width="0.80" stroke-linejoin="round"/>
<text transform="translate(671.72 1021.97) scale(0.8173 1)" font-size="33.01" font-weight="bold" font-style="normal" fill="#231f20" stroke="#231f20" stroke-width="0.75" stroke-linejoin="round">a</text>
<text transform="translate(600.67 1085.53) scale(0.8408 1)" font-size="33.67" font-weight="bold" font-style="normal" fill="#231f20" stroke="#231f20" stroke-width="0.64" stroke-linejoin="round">B</text>
<path transform="translate(754.30 902.90) rotate(0)" d="M-0.90,0.00 L-1.75,-9.20 L1.75,-9.20 L0.90,0.00 L1.75,9.20 L-1.75,9.20 Z" fill="#231f20" stroke="#231f20" stroke-width="0.80" stroke-linejoin="round"/>
<path transform="translate(754.30 902.90) rotate(60)" d="M-0.90,0.00 L-1.75,-9.20 L1.75,-9.20 L0.90,0.00 L1.75,9.20 L-1.75,9.20 Z" fill="#231f20" stroke="#231f20" stroke-width="0.80" stroke-linejoin="round"/>
<path transform="translate(754.30 902.90) rotate(120)" d="M-0.90,0.00 L-1.75,-9.20 L1.75,-9.20 L0.90,0.00 L1.75,9.20 L-1.75,9.20 Z" fill="#231f20" stroke="#231f20" stroke-width="0.80" stroke-linejoin="round"/>
<text transform="translate(803.65 919.91) scale(0.9460 1)" font-size="35.63" font-weight="bold" font-style="normal" fill="#231f20" stroke="#231f20" stroke-width="0.20" stroke-linejoin="round">A</text>
<text transform="translate(809.34 1075.18) scale(0.8321 1)" font-size="34.56" font-weight="bold" font-style="normal" fill="#231f20" stroke="#231f20" stroke-width="0.68" stroke-linejoin="round">a</text>
<text transform="translate(869.25 0) rotate(90) translate(1005.62 0) scale(0.8413 1)" font-size="29.00" font-weight="bold" font-style="italic" fill="#231f20" stroke="#231f20" stroke-width="0.60" stroke-linejoin="round">LAP</text>
<rect x="183.20" y="1171.20" width="660.30" height="251.70" fill="none" stroke="#231f20" stroke-width="1.6"/>
<line x1="183.20" y1="1170.40" x2="183.20" y2="1423.70" stroke="#231f20" stroke-width="3.10" stroke-linecap="butt"/>
<line x1="174.30" y1="1171.10" x2="183.20" y2="1171.10" stroke="#231f20" stroke-width="2.70" stroke-linecap="butt"/>
<line x1="174.30" y1="1234.50" x2="183.20" y2="1234.50" stroke="#231f20" stroke-width="2.70" stroke-linecap="butt"/>
<line x1="174.30" y1="1297.00" x2="183.20" y2="1297.00" stroke="#231f20" stroke-width="2.70" stroke-linecap="butt"/>
<line x1="174.30" y1="1360.40" x2="183.20" y2="1360.40" stroke="#231f20" stroke-width="2.70" stroke-linecap="butt"/>
<line x1="174.30" y1="1422.90" x2="183.20" y2="1422.90" stroke="#231f20" stroke-width="2.70" stroke-linecap="butt"/>
<text transform="translate(59.88 1179.71) scale(0.9884 1)" font-size="27.05" font-weight="normal" font-style="normal" fill="#231f20" stroke="#231f20" stroke-width="0.25" stroke-linejoin="round">0.00012</text>
<text transform="translate(59.80 1243.11) scale(0.9884 1)" font-size="27.05" font-weight="normal" font-style="normal" fill="#231f20" stroke="#231f20" stroke-width="0.25" stroke-linejoin="round">0.00009</text>
<text transform="translate(59.71 1305.61) scale(0.9884 1)" font-size="27.05" font-weight="normal" font-style="normal" fill="#231f20" stroke="#231f20" stroke-width="0.25" stroke-linejoin="round">0.00006</text>
<text transform="translate(59.71 1369.01) scale(0.9884 1)" font-size="27.05" font-weight="normal" font-style="normal" fill="#231f20" stroke="#231f20" stroke-width="0.25" stroke-linejoin="round">0.00003</text>
<text transform="translate(141.58 1431.51) scale(0.9717 1)" font-size="27.05" font-weight="normal" font-style="normal" fill="#231f20" stroke="#231f20" stroke-width="0.26" stroke-linejoin="round">0</text>
<polyline points="249.50,1314.20 381.40,1366.30 513.40,1364.40 645.30,1381.40 777.20,1395.50" fill="none" stroke="#231f20" stroke-width="3.90" stroke-linecap="round" stroke-linejoin="round" stroke-dasharray="11.2 16.7"/>
<polyline points="249.50,1341.60 381.30,1386.50 513.30,1385.50 645.20,1364.20 777.20,1227.70" fill="none" stroke="#231f20" stroke-width="4.20" stroke-linecap="round" stroke-linejoin="round"/>
<line x1="249.50" y1="1314.20" x2="249.50" y2="1287.25" stroke="#231f20" stroke-width="3.80" stroke-linecap="butt"/>
<line x1="244.70" y1="1287.25" x2="254.30" y2="1287.25" stroke="#231f20" stroke-width="3.90" stroke-linecap="butt"/>
<line x1="381.40" y1="1366.30" x2="381.40" y2="1352.05" stroke="#231f20" stroke-width="3.80" stroke-linecap="butt"/>
<line x1="376.60" y1="1352.05" x2="386.20" y2="1352.05" stroke="#231f20" stroke-width="3.90" stroke-linecap="butt"/>
<line x1="513.40" y1="1364.40" x2="513.40" y2="1350.05" stroke="#231f20" stroke-width="3.80" stroke-linecap="butt"/>
<line x1="508.60" y1="1350.05" x2="518.20" y2="1350.05" stroke="#231f20" stroke-width="3.90" stroke-linecap="butt"/>
<line x1="645.30" y1="1381.40" x2="645.30" y2="1373.95" stroke="#231f20" stroke-width="3.80" stroke-linecap="butt"/>
<line x1="640.50" y1="1373.95" x2="650.10" y2="1373.95" stroke="#231f20" stroke-width="3.90" stroke-linecap="butt"/>
<line x1="777.20" y1="1395.50" x2="777.20" y2="1390.95" stroke="#231f20" stroke-width="3.80" stroke-linecap="butt"/>
<line x1="772.40" y1="1390.95" x2="782.00" y2="1390.95" stroke="#231f20" stroke-width="3.90" stroke-linecap="butt"/>
<line x1="249.50" y1="1341.60" x2="249.50" y2="1374.85" stroke="#231f20" stroke-width="3.80" stroke-linecap="butt"/>
<line x1="244.70" y1="1374.85" x2="254.30" y2="1374.85" stroke="#231f20" stroke-width="3.90" stroke-linecap="butt"/>
<line x1="381.30" y1="1386.50" x2="381.30" y2="1401.95" stroke="#231f20" stroke-width="3.80" stroke-linecap="butt"/>
<line x1="376.50" y1="1401.95" x2="386.10" y2="1401.95" stroke="#231f20" stroke-width="3.90" stroke-linecap="butt"/>
<line x1="513.30" y1="1385.50" x2="513.30" y2="1397.65" stroke="#231f20" stroke-width="3.80" stroke-linecap="butt"/>
<line x1="508.50" y1="1397.65" x2="518.10" y2="1397.65" stroke="#231f20" stroke-width="3.90" stroke-linecap="butt"/>
<line x1="777.20" y1="1227.70" x2="777.20" y2="1248.95" stroke="#231f20" stroke-width="3.80" stroke-linecap="butt"/>
<line x1="772.40" y1="1248.95" x2="782.00" y2="1248.95" stroke="#231f20" stroke-width="3.90" stroke-linecap="butt"/>
<rect x="241.10" y="1305.80" width="16.80" height="16.80" fill="none" stroke="#231f20" stroke-width="3.80" stroke-linejoin="round"/>
<rect x="373.00" y="1357.90" width="16.80" height="16.80" fill="none" stroke="#231f20" stroke-width="3.80" stroke-linejoin="round"/>
<rect x="505.00" y="1356.00" width="16.80" height="16.80" fill="none" stroke="#231f20" stroke-width="3.80" stroke-linejoin="round"/>
<rect x="636.90" y="1373.00" width="16.80" height="16.80" fill="none" stroke="#231f20" stroke-width="3.80" stroke-linejoin="round"/>
<rect x="768.80" y="1387.10" width="16.80" height="16.80" fill="none" stroke="#231f20" stroke-width="3.80" stroke-linejoin="round"/>
<circle cx="249.50" cy="1341.60" r="8.25" fill="none" stroke="#231f20" stroke-width="4.30"/>
<circle cx="381.30" cy="1386.50" r="8.25" fill="none" stroke="#231f20" stroke-width="4.30"/>
<circle cx="513.30" cy="1385.50" r="8.25" fill="none" stroke="#231f20" stroke-width="4.30"/>
<circle cx="645.20" cy="1364.20" r="8.25" fill="none" stroke="#231f20" stroke-width="4.30"/>
<circle cx="777.20" cy="1227.70" r="8.25" fill="none" stroke="#231f20" stroke-width="4.30"/>
<ellipse cx="779.60" cy="1304.50" rx="22.50" ry="108.30" fill="none" stroke="#231f20" stroke-width="1.80"/>
<text transform="translate(240.58 1277.59) scale(0.8290 1)" font-size="33.08" font-weight="bold" font-style="normal" fill="#231f20" stroke="#231f20" stroke-width="0.70" stroke-linejoin="round">a</text>
<text transform="translate(238.49 1407.79) scale(0.8139 1)" font-size="33.40" font-weight="bold" font-style="normal" fill="#231f20" stroke="#231f20" stroke-width="0.76" stroke-linejoin="round">B</text>
<text transform="translate(372.33 1340.16) scale(0.8126 1)" font-size="33.16" font-weight="bold" font-style="normal" fill="#231f20" stroke="#231f20" stroke-width="0.78" stroke-linejoin="round">a</text>
<text transform="translate(348.57 1412.53) scale(0.8383 1)" font-size="33.95" font-weight="bold" font-style="normal" fill="#231f20" stroke="#231f20" stroke-width="0.65" stroke-linejoin="round">B</text>
<text transform="translate(501.26 1338.20) scale(0.8360 1)" font-size="33.30" font-weight="bold" font-style="normal" fill="#231f20" stroke="#231f20" stroke-width="0.66" stroke-linejoin="round">a</text>
<text transform="translate(478.55 1414.44) scale(0.8459 1)" font-size="33.70" font-weight="bold" font-style="normal" fill="#231f20" stroke="#231f20" stroke-width="0.61" stroke-linejoin="round">B</text>
<text transform="translate(626.14 1340.91) scale(0.8279 1)" font-size="33.32" font-weight="bold" font-style="normal" fill="#231f20" stroke="#231f20" stroke-width="0.70" stroke-linejoin="round">B</text>
<text transform="translate(621.18 1411.39) scale(0.8290 1)" font-size="33.08" font-weight="bold" font-style="normal" fill="#231f20" stroke="#231f20" stroke-width="0.70" stroke-linejoin="round">a</text>
<path transform="translate(755.80 1197.05) rotate(0)" d="M-0.90,0.00 L-1.75,-9.45 L1.75,-9.45 L0.90,0.00 L1.75,9.45 L-1.75,9.45 Z" fill="#231f20" stroke="#231f20" stroke-width="0.80" stroke-linejoin="round"/>
<path transform="translate(755.80 1197.05) rotate(60)" d="M-0.90,0.00 L-1.75,-9.45 L1.75,-9.45 L0.90,0.00 L1.75,9.45 L-1.75,9.45 Z" fill="#231f20" stroke="#231f20" stroke-width="0.80" stroke-linejoin="round"/>
<path transform="translate(755.80 1197.05) rotate(120)" d="M-0.90,0.00 L-1.75,-9.45 L1.75,-9.45 L0.90,0.00 L1.75,9.45 L-1.75,9.45 Z" fill="#231f20" stroke="#231f20" stroke-width="0.80" stroke-linejoin="round"/>
<text transform="translate(803.69 1231.80) scale(0.9400 1)" font-size="34.87" font-weight="bold" font-style="normal" fill="#231f20" stroke="#231f20" stroke-width="0.22" stroke-linejoin="round">A</text>
<text transform="translate(804.67 1408.26) scale(0.8220 1)" font-size="34.68" font-weight="bold" font-style="normal" fill="#231f20" stroke="#231f20" stroke-width="0.73" stroke-linejoin="round">a</text>
<text transform="translate(871.10 0) rotate(90) translate(1262.47 0) scale(0.9742 1)" font-size="26.76" font-weight="bold" font-style="italic" fill="#231f20" stroke="#231f20" stroke-width="0.60" stroke-linejoin="round">pepsin</text>
<line x1="171.10" y1="1454.40" x2="846.80" y2="1454.40" stroke="#878787" stroke-width="1.40" stroke-linecap="butt"/>
<line x1="171.40" y1="1454.40" x2="171.40" y2="1463.20" stroke="#878787" stroke-width="1.40" stroke-linecap="butt"/>
<line x1="306.20" y1="1454.40" x2="306.20" y2="1463.20" stroke="#878787" stroke-width="1.40" stroke-linecap="butt"/>
<line x1="442.20" y1="1454.40" x2="442.20" y2="1463.20" stroke="#878787" stroke-width="1.40" stroke-linecap="butt"/>
<line x1="576.70" y1="1454.40" x2="576.70" y2="1463.20" stroke="#878787" stroke-width="1.40" stroke-linecap="butt"/>
<line x1="712.30" y1="1454.40" x2="712.30" y2="1463.20" stroke="#878787" stroke-width="1.40" stroke-linecap="butt"/>
<rect x="169.8" y="1451.1" width="2.2" height="4.5" fill="#231f20"/>
<text transform="translate(199.75 1498.00) scale(1.1017 1)" font-size="23.69" font-weight="bold" font-style="normal" fill="#231f20">Mouth</text>
<text transform="translate(192.65 1531.20) scale(0.9996 1)" font-size="24.23" font-weight="bold" font-style="normal" fill="#231f20">opening</text>
<text transform="translate(331.49 1497.90) scale(1.0305 1)" font-size="23.92" font-weight="bold" font-style="normal" fill="#231f20">Start of</text>
<text transform="translate(343.05 1530.80) scale(1.0297 1)" font-size="23.66" font-weight="bold" font-style="normal" fill="#231f20">exog.</text>
<text transform="translate(331.28 1564.10) scale(1.0257 1)" font-size="24.04" font-weight="bold" font-style="normal" fill="#231f20">feeding</text>
<text transform="translate(448.19 1497.40) scale(1.0449 1)" font-size="23.49" font-weight="bold" font-style="normal" fill="#231f20">Oil droplet</text>
<text transform="translate(453.37 1531.00) scale(1.0260 1)" font-size="24.04" font-weight="bold" font-style="normal" fill="#231f20">reduction</text>
<text transform="translate(595.38 1497.40) scale(1.1004 1)" font-size="22.24" font-weight="bold" font-style="normal" fill="#231f20">Weaning</text>
<text transform="translate(743.74 1498.10) scale(1.0039 1)" font-size="23.26" font-weight="bold" font-style="normal" fill="#231f20">End of</text>
<text transform="translate(714.03 1531.00) scale(1.0297 1)" font-size="24.04" font-weight="bold" font-style="normal" fill="#231f20">experiment</text>
<line x1="221.70" y1="13.10" x2="229.10" y2="13.10" stroke="#231f20" stroke-width="2.40" stroke-linecap="round"/>
<line x1="238.90" y1="13.10" x2="247.40" y2="13.10" stroke="#231f20" stroke-width="2.40" stroke-linecap="round"/>
<rect x="233.30" y="7.60" width="11.10" height="11.10" fill="none" stroke="#231f20" stroke-width="2.4" stroke-linejoin="round"/>
<text transform="translate(260.67 23.00) scale(1.0079 1)" font-size="29.94" font-weight="normal" font-style="normal" fill="#231f20">Wild</text>
<line x1="342.00" y1="13.10" x2="377.50" y2="13.10" stroke="#231f20" stroke-width="2.40" stroke-linecap="butt"/>
<circle cx="360.4" cy="13.4" r="4.7" fill="none" stroke="#231f20" stroke-width="2.4"/>
<text transform="translate(380.86 22.20) scale(1.0435 1)" font-size="28.49" font-weight="normal" font-style="normal" fill="#231f20">Domesticated</text>
<text transform="translate(27.40 0) rotate(-90) translate(-927.57 0) scale(1.0226 1)" font-size="35.18" font-weight="normal" font-style="normal" fill="#231f20">U/mg protein</text>
<text transform="translate(15.90 0) rotate(-90) translate(-712.62 0) scale(1.0021 1)" font-size="22.82" font-weight="normal" font-style="normal" fill="#231f20">-1</text>
</svg>
</body></html>
